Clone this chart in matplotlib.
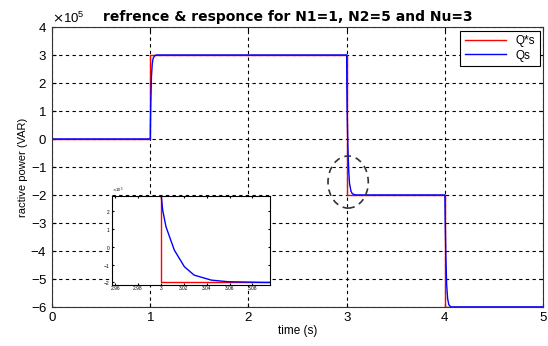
import numpy as np
import matplotlib.pyplot as plt
from matplotlib.patches import Ellipse
from matplotlib.ticker import ScalarFormatter, FixedLocator, FixedFormatter

plt.rcParams['font.family'] = ['Liberation Sans', 'DejaVu Sans']

# reference Q*s (VAR)
t_ref = [0, 1.0, 1.0, 3.0, 3.0, 4.0, 4.0, 5.0]
q_ref = [0, 0, 3e5, 3e5, -2e5, -2e5, -6e5, -6e5]

# response Qs (VAR)
t_resp = [0, 1.0, 1.0015, 1.0045, 1.0117, 1.0205, 1.029, 1.044, 1.06,
          3.0, 3.0015, 3.0044, 3.0117, 3.0205, 3.029, 3.044, 3.0585, 3.09,
          4.0, 4.004, 4.01, 4.018, 4.028, 4.04, 4.06, 5.0]
q_resp = [0, 0, 0.5e5, 1.2e5, 2.2e5, 2.7e5, 2.88e5, 2.97e5, 3e5,
          3e5, 2.06e5, 1.12e5, -0.19e5, -1.12e5, -1.59e5, -1.87e5, -1.96e5, -2e5,
          -2e5, -3.0e5, -4.2e5, -5.2e5, -5.7e5, -5.92e5, -6e5, -6e5]

inset_xticks = [2.96, 2.98, 3.0, 3.02, 3.04, 3.06, 3.08]
inset_xlabels = ['2.96', '2.98', '3', '3.02', '3.04', '3.06', '3.08']

fig = plt.figure(figsize=(5.48, 3.46), dpi=100)
ax = fig.add_axes([0.095, 0.113, 0.896, 0.809])

ax.plot(t_ref, q_ref, color='red', linewidth=1.0, label='Q*s')
ax.plot(t_resp, q_resp, color='blue', linewidth=1.0, label='Qs')

ax.set_xlim(0, 5)
ax.set_ylim(-6e5, 4e5)
ax.set_xticks(np.arange(0, 6, 1))
ax.set_yticks(np.arange(-6e5, 5e5, 1e5))
fmt = ScalarFormatter(useMathText=True)
fmt.set_powerlimits((0, 0))
ax.yaxis.set_major_formatter(fmt)
ax.yaxis.get_offset_text().set_fontsize(9.5)
ax.tick_params(direction='in', top=True, right=True, labelsize=9.5, length=3)
ax.grid(True, color='black', linestyle=(0, (3, 3)), linewidth=0.8)
for s in ax.spines.values():
    s.set_color('#333333')

ax.set_xlabel('time (s)', fontsize=8.5, labelpad=1)
ax.set_ylabel('ractive power (VAR)', fontsize=8, labelpad=2)
ax.set_title('refrence & responce for N1=1, N2=5 and Nu=3',
             fontsize=10, fontweight='bold', family='DejaVu Sans', pad=4, x=0.48)

leg = ax.legend(loc='upper right', fontsize=8.5, fancybox=False,
                edgecolor='black', framealpha=1, handlelength=3.5,
                borderaxespad=0.3, labelspacing=0.2)
leg.get_frame().set_linewidth(0.8)

ell = Ellipse((3.015, -1.54e5), 0.41, 1.86e5, fill=False,
              linestyle=(0, (4, 3)), edgecolor='#333333', linewidth=1.2, zorder=5)
ax.add_patch(ell)

# inset zoom around t = 3
axi = fig.add_axes([0.204, 0.176, 0.288, 0.257])
axi.plot(t_ref, q_ref, color='red', linewidth=1.0)
axi.plot(t_resp, q_resp, color='blue', linewidth=1.0)
axi.set_xlim(2.957, 3.095)
axi.set_ylim(-2.15e5, 2.84e5)
axi.xaxis.set_major_locator(FixedLocator(inset_xticks))
axi.xaxis.set_major_formatter(FixedFormatter(inset_xlabels))
axi.set_yticks(np.arange(-2e5, 3e5, 1e5))
fmt2 = ScalarFormatter(useMathText=True)
fmt2.set_powerlimits((0, 0))
axi.yaxis.set_major_formatter(fmt2)
axi.yaxis.get_offset_text().set_fontsize(3)
axi.tick_params(direction='in', top=True, right=True, labelsize=3.5, length=1.5, pad=1)
axi.patch.set_facecolor('white')

fig.savefig('out.png', dpi=100)
